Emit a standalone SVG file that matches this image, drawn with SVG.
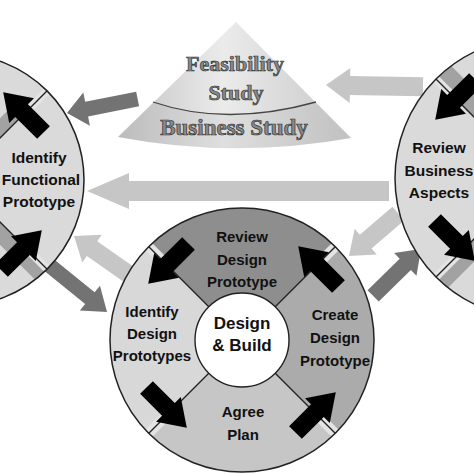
<svg xmlns="http://www.w3.org/2000/svg" width="474" height="474" viewBox="0 0 474 474">
<style>
.lbl{font-family:"Liberation Sans",Arial,sans-serif;font-weight:bold;font-size:15px;fill:#111;text-anchor:middle}
.big{font-size:15.5px}
.ctr{font-size:17px}
.cone{font-family:"Liberation Serif","Times New Roman",serif;font-weight:bold;font-size:22px;fill:#8a8a8a;stroke:#333;stroke-width:0.7;text-anchor:middle}
.rim{fill:none;stroke:#222;stroke-width:1.5}
.div{stroke:#222;stroke-width:1.3}
.band{fill:#e4e4e4}
.gband{fill:#a2a2a2}
.blk{fill:#000}
.ga{fill:#c6c6c6}
.da{fill:#737373}
</style>
<defs>
<clipPath id="clipL"><circle cx="-42" cy="180" r="126"/></clipPath>
<clipPath id="clipR"><circle cx="535" cy="178" r="140"/></clipPath>
<clipPath id="clipB"><circle cx="242" cy="340" r="132"/></clipPath>
<clipPath id="clipC"><path d="M236,22 L118,137 Q234,159 351,138 Z"/></clipPath>
<path id="blk" d="M-29,-9 L2,-9 L2,-17.5 L28,0 L2,17.5 L2,9 L-29,9 Z"/>
<linearGradient id="coneG" x1="0" y1="0" x2="1" y2="0">
<stop offset="0" stop-color="#c2c2c2"/>
<stop offset="0.45" stop-color="#ebebeb"/>
<stop offset="1" stop-color="#c8c8c8"/>
</linearGradient>
</defs>
<rect width="474" height="474" fill="#fff"/>

<g id="connectors">
<path class="da" transform="translate(67,113) rotate(168.8)" d="M0,0 L-20,-17 L-20,-7.5 L-72,-7.5 L-72,7.5 L-20,7.5 L-20,17 Z"/>
<path class="ga" transform="translate(326,85) rotate(181)" d="M0,0 L-24,-17.5 L-24,-9.5 L-97,-9.5 L-97,9.5 L-24,9.5 L-24,17.5 Z"/>
<path class="ga" transform="translate(87,191) rotate(180)" d="M0,0 L-42,-18 L-42,-10 L-302,-10 L-302,10 L-42,10 L-42,18 Z"/>
<path class="ga" transform="translate(74,236) rotate(215)" d="M0,0 L-22,-17 L-22,-9 L-66,-9 L-66,9 L-22,9 L-22,17 Z"/>
<path class="da" transform="translate(107,312) rotate(39)" d="M0,0 L-22,-16 L-22,-7.5 L-78,-7.5 L-78,7.5 L-22,7.5 L-22,16 Z"/>
<path class="ga" transform="translate(349,256) rotate(139.4)" d="M0,0 L-22,-17 L-22,-9 L-65,-9 L-65,9 L-22,9 L-22,17 Z"/>
<path class="da" transform="translate(421,249) rotate(-44.4)" d="M0,0 L-22,-16 L-22,-8 L-67,-8 L-67,8 L-22,8 L-22,16 Z"/>
</g>

<g id="study">
<path d="M236,22 L118,137 Q234,159 351,138 Z" fill="url(#coneG)"/>
<path d="M100,100 L153,102 Q226,127 316,102 L370,100 L370,170 L100,170 Z" fill="#9a9a9a" fill-opacity="0.15" clip-path="url(#clipC)"/>
<path d="M153,102 Q226,127 316,102" fill="none" stroke="#444" stroke-width="1.3"/>
<text class="cone" x="235" y="71">Feasibility</text>
<text class="cone" x="236" y="100">Study</text>
<text class="cone" x="234" y="135" style="font-size:23px">Business Study</text>
</g>

<g id="functional">
<circle cx="-42" cy="180" r="126" fill="#dadada"/>
<g clip-path="url(#clipL)">
<g transform="translate(-42,180) rotate(-45)"><rect class="gband" x="55" y="-14" width="45" height="14"/><rect class="band" x="100" y="-4" width="35" height="8"/><line class="div" x1="50" y1="0" x2="130" y2="0"/></g>
<g transform="translate(-42,180) rotate(45)"><rect class="gband" x="60" y="0" width="80" height="16"/><rect class="band" x="95" y="-4" width="40" height="8"/><line class="div" x1="50" y1="0" x2="130" y2="0"/></g>
</g>
<use href="#blk" transform="translate(23,112) rotate(-135)"/>
<use href="#blk" transform="translate(22,250) rotate(-45)"/>
<circle class="rim" cx="-42" cy="180" r="126"/>
<text class="lbl big" x="39" y="163">Identify</text>
<text class="lbl big" x="41" y="185">Functional</text>
<text class="lbl big" x="39" y="207">Prototype</text>
</g>

<g id="business">
<circle cx="535" cy="178" r="140" fill="#dadada"/>
<g clip-path="url(#clipR)">
<g transform="translate(535,178) rotate(-135)"><rect class="gband" x="60" y="0" width="90" height="20"/><rect class="band" x="105" y="-4" width="40" height="8"/><line class="div" x1="50" y1="0" x2="145" y2="0"/></g>
<g transform="translate(535,178) rotate(135)"><rect class="gband" x="60" y="-16" width="90" height="16"/><rect class="band" x="105" y="-4" width="40" height="8"/><line class="div" x1="50" y1="0" x2="145" y2="0"/></g>
</g>
<use href="#blk" transform="translate(455,100) rotate(135)"/>
<use href="#blk" transform="translate(455,241) rotate(45)"/>
<circle class="rim" cx="535" cy="178" r="140"/>
<text class="lbl big" x="439" y="153">Review</text>
<text class="lbl big" x="439" y="176">Business</text>
<text class="lbl big" x="439" y="198">Aspects</text>
</g>

<g id="design-build">
<path d="M242,340 L148.66,246.66 A132,132 0 0,1 335.34,246.66 Z" fill="#8e8e8e"/>
<path d="M242,340 L335.34,246.66 A132,132 0 0,1 335.34,433.34 Z" fill="#ababab"/>
<path d="M242,340 L335.34,433.34 A132,132 0 0,1 148.66,433.34 Z" fill="#c6c6c6"/>
<path d="M242,340 L148.66,433.34 A132,132 0 0,1 148.66,246.66 Z" fill="#d8d8d8"/>
<g clip-path="url(#clipB)">
<g transform="translate(242,340) rotate(-135)"><rect class="band" x="100" y="-5" width="40" height="10"/><line class="div" x1="47" y1="0" x2="135" y2="0"/></g>
<g transform="translate(242,340) rotate(-45)"><rect class="band" x="100" y="-5" width="40" height="10"/><line class="div" x1="47" y1="0" x2="135" y2="0"/></g>
<g transform="translate(242,340) rotate(45)"><rect class="band" x="100" y="-5" width="40" height="10"/><line class="div" x1="47" y1="0" x2="135" y2="0"/></g>
<g transform="translate(242,340) rotate(135)"><rect class="band" x="100" y="-5" width="40" height="10"/><line class="div" x1="47" y1="0" x2="135" y2="0"/></g>
</g>
<use href="#blk" transform="translate(168,264) rotate(135)"/>
<use href="#blk" transform="translate(318,266) rotate(-135)"/>
<use href="#blk" transform="translate(316,412) rotate(-45)"/>
<use href="#blk" transform="translate(167,408) rotate(45)"/>
<circle class="rim" cx="242" cy="340" r="132"/>
<circle cx="242" cy="340" r="47" fill="#fff" stroke="#222" stroke-width="1.4"/>
<text class="lbl" x="242" y="242">Review</text>
<text class="lbl" x="242" y="265">Design</text>
<text class="lbl" x="242" y="287">Prototype</text>
<text class="lbl" x="152" y="317">Identify</text>
<text class="lbl" x="152" y="339">Design</text>
<text class="lbl" x="152" y="361">Prototypes</text>
<text class="lbl ctr" x="242" y="329">Design</text>
<text class="lbl ctr" x="242" y="351">&amp; Build</text>
<text class="lbl" x="335" y="320">Create</text>
<text class="lbl" x="335" y="343">Design</text>
<text class="lbl" x="335" y="366">Prototype</text>
<text class="lbl" x="243" y="417">Agree</text>
<text class="lbl" x="243" y="440">Plan</text>
</g>
</svg>
